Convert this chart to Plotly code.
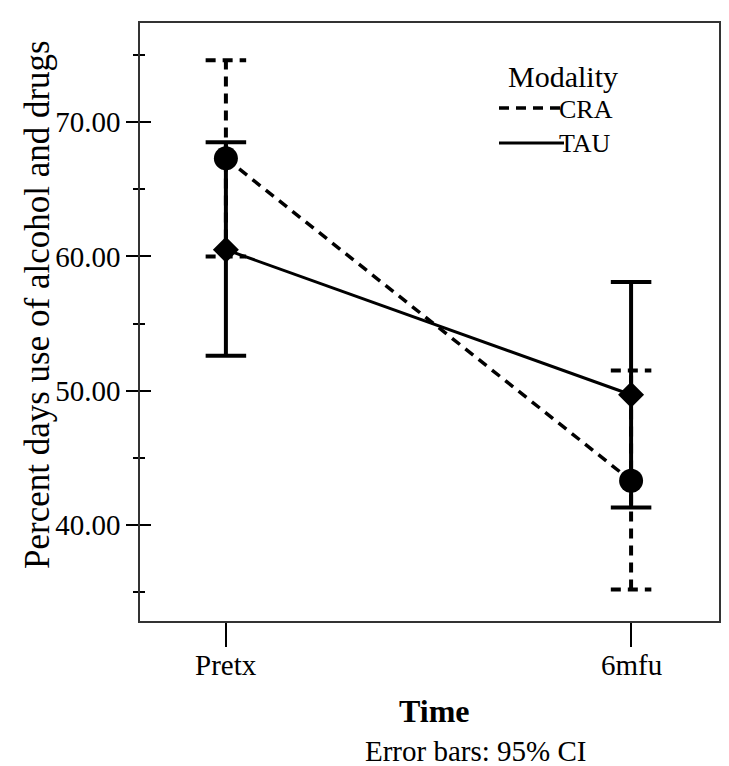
import plotly.graph_objects as go

# ---- data ----
time_labels = ["Pretx", "6mfu"]
series_names = ["CRA", "TAU"]
cra_mean = [67.3, 43.3]
cra_lower = [60.0, 35.2]
cra_upper = [74.6, 51.5]
tau_mean = [60.5, 49.7]
tau_lower = [52.6, 41.3]
tau_upper = [68.5, 58.1]
y_ticks = [40, 50, 60, 70]

FONT = "Liberation Serif, Times New Roman, serif"
CAP = 0.05
DASH = "10px,7px"

x_pos = list(range(len(time_labels)))


def errbar_xy(lower, upper):
    xs, ys = [], []
    for x, lo, hi in zip(x_pos, lower, upper):
        xs += [x, x, None, x - CAP, x + CAP, None, x - CAP, x + CAP, None]
        ys += [lo, hi, None, hi, hi, None, lo, lo, None]
    return xs, ys


fig = go.Figure()

# TAU error bars (solid)
ex, ey = errbar_xy(tau_lower, tau_upper)
fig.add_trace(go.Scatter(x=ex, y=ey, mode="lines", line=dict(color="black", width=4),
                         showlegend=False, hoverinfo="skip"))
# CRA error bars (dashed)
ex, ey = errbar_xy(cra_lower, cra_upper)
fig.add_trace(go.Scatter(x=ex, y=ey, mode="lines", line=dict(color="black", width=4, dash=DASH),
                         showlegend=False, hoverinfo="skip"))

# mean lines
fig.add_trace(go.Scatter(x=x_pos, y=tau_mean, mode="lines+markers", name=series_names[1],
                         line=dict(color="black", width=3),
                         marker=dict(symbol="diamond", size=20, color="black"),
                         showlegend=False))
fig.add_trace(go.Scatter(x=x_pos, y=cra_mean, mode="lines+markers", name=series_names[0],
                         line=dict(color="black", width=3.5, dash=DASH),
                         marker=dict(symbol="circle", size=24, color="black"),
                         showlegend=False))

L, R, T, B = 132, 18, 15, 153
W, H = 729, 766
pw, ph = W - L - R, H - T - B


def px(xp):
    return (xp - L) / pw


def py(yp):
    return (H - B - yp) / ph


fig.update_layout(
    width=W, height=H,
    margin=dict(l=L, r=R, t=T, b=B),
    paper_bgcolor="white", plot_bgcolor="white",
    font=dict(family=FONT, color="black", size=29),
    showlegend=False,
    xaxis=dict(
        range=[-0.212, 1.217], tickvals=x_pos, showticklabels=False,
        ticks="outside", ticklen=24, tickwidth=2, tickcolor="black",
        showgrid=False, zeroline=False, showline=True, linecolor="#333",
        linewidth=1.5, mirror=True,
    ),
    yaxis=dict(
        range=[32.85, 77.38], tickvals=y_ticks, tickformat=".2f",
        ticks="outside", ticklen=12, tickwidth=2, tickcolor="black",
        minor=dict(dtick=5, tick0=35, ticks="outside", ticklen=5, tickwidth=2, tickcolor="black"),
        showgrid=False, zeroline=False, showline=True, linecolor="#333",
        linewidth=1.5, mirror=True, tickfont=dict(size=29, family=FONT),
    ),
    yaxis2=dict(
        overlaying="y", matches="y", side="left", anchor="x",
        tickvals=y_ticks, showticklabels=False,
        ticks="inside", ticklen=11, tickwidth=2, tickcolor="black",
        minor=dict(dtick=5, tick0=35, ticks="inside", ticklen=5, tickwidth=2, tickcolor="black"),
        showgrid=False, zeroline=False, showline=False,
    ),
)
fig.add_trace(go.Scatter(x=[x_pos[0]], y=[cra_mean[0]], yaxis="y2", mode="markers",
                         marker=dict(size=1, opacity=0), showlegend=False, hoverinfo="skip"))

annotations = [
    dict(text="Percent days use of alcohol and drugs", textangle=-90, x=px(29), y=py(297),
         xref="paper", yref="paper", showarrow=False, font=dict(size=35, family=FONT),
         xanchor="center", yanchor="middle"),
    dict(text="<b>Time</b>", x=px(426), y=py(703), xref="paper", yref="paper", showarrow=False,
         font=dict(size=32, family=FONT), xanchor="center", yanchor="middle"),
    dict(text="Error bars: 95% CI", x=px(467), y=py(743), xref="paper", yref="paper", showarrow=False,
         font=dict(size=29, family=FONT), xanchor="center", yanchor="middle"),
    dict(text="Modality", x=px(555), y=py(68), xref="paper", yref="paper", showarrow=False,
         font=dict(size=30, family=FONT), xanchor="center", yanchor="middle"),
    dict(text=series_names[0], x=px(549), y=py(101), xref="paper", yref="paper", showarrow=False,
         font=dict(size=26, family=FONT), xanchor="left", yanchor="middle"),
    dict(text=series_names[1], x=px(549), y=py(135), xref="paper", yref="paper", showarrow=False,
         font=dict(size=26, family=FONT), xanchor="left", yanchor="middle"),
]
for xv, lab in zip(x_pos, time_labels):
    annotations.append(dict(text=lab, x=xv, y=py(657), xref="x", yref="paper", showarrow=False,
                            font=dict(size=29, family=FONT), xanchor="center", yanchor="middle"))
fig.update_layout(annotations=annotations)

fig.add_shape(type="line", xref="paper", yref="paper", x0=px(491), x1=px(554), y0=py(100), y1=py(100),
              line=dict(color="black", width=3.5, dash=DASH))
fig.add_shape(type="line", xref="paper", yref="paper", x0=px(491), x1=px(556), y0=py(135), y1=py(135),
              line=dict(color="black", width=3))

fig.write_html("out.html")
